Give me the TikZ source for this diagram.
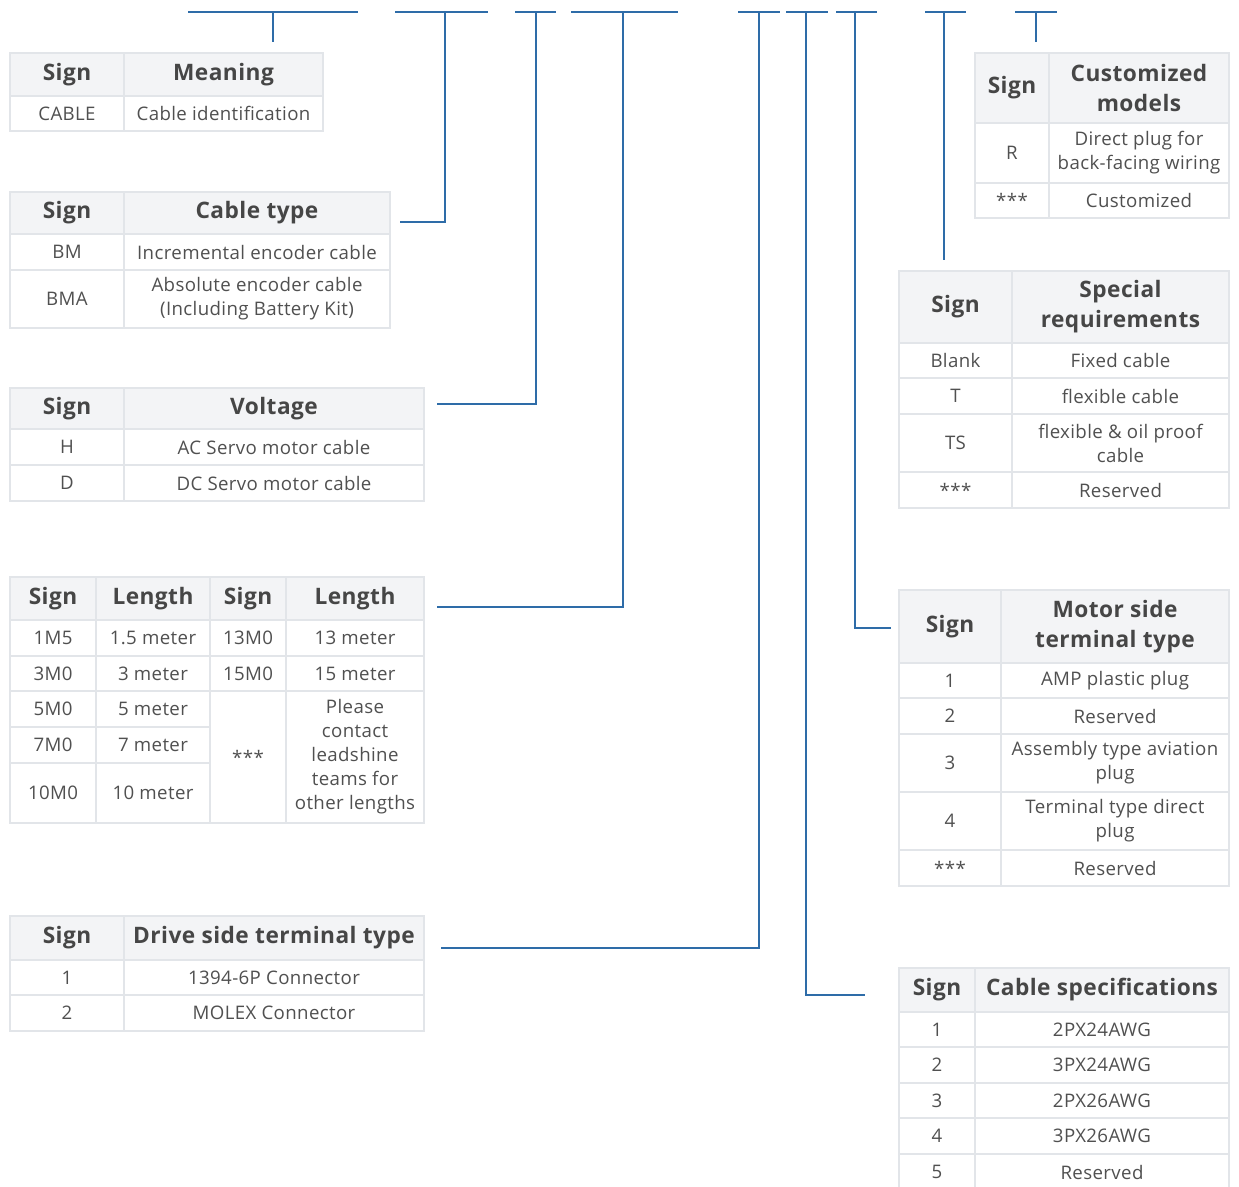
\documentclass[tikz,border=0pt]{standalone}
\usepackage{fontspec}
\setmainfont{Open Sans}[LetterSpace=2]
\definecolor{conncol}{RGB}{46,108,168}
\definecolor{gridc}{RGB}{226,229,233}
\definecolor{headfill}{RGB}{243,244,246}
\definecolor{bodytxt}{RGB}{80,80,80}
\definecolor{headtxt}{RGB}{70,70,70}
\tikzset{
  conn/.style={draw=conncol, line width=1.6pt},
  gridline/.style={draw=gridc, line width=0.9pt},
  celltext/.style={text=bodytxt, font=\fontsize{14}{18}\selectfont, align=center, inner sep=0pt},
  headtext/.style={text=headtxt, font=\fontsize{17}{22.5}\selectfont\bfseries, align=center, inner sep=0pt},
}
\newcommand{\tcell}[6]{%
  \path[gridline] (#2,#3) rectangle (#4,#5);
  \node[celltext] (#1) at ({(#2+#4)/2},{(#3+#5)/2}) {#6};}
\newcommand{\hcell}[6]{%
  \path[gridline, fill=headfill] (#2,#3) rectangle (#4,#5);
  \node[headtext] (#1) at ({(#2+#4)/2},{(#3+#5)/2}) {#6};}
\begin{document}
\begin{tikzpicture}[x=0.75pt,y=-0.75pt]
\clip (0,0) rectangle (1239,1186);
\fill[white] (0,0) rectangle (1239,1186);

% ---------- Table 1: Meaning
\hcell{ta1}{10}{53}{124}{96}{Sign}
\hcell{ta2}{124}{53}{323}{96}{Meaning}
\tcell{ta3}{10}{96}{124}{131}{CABLE}
\tcell{ta4}{124}{96}{323}{131}{Cable identification}

% ---------- Table 2: Cable type
\hcell{tb1}{10}{192}{124}{234}{Sign}
\hcell{tb2}{124}{192}{390}{234}{Cable type}
\tcell{tb3}{10}{234}{124}{270}{BM}
\tcell{tb4}{124}{234}{390}{270}{Incremental encoder cable}
\tcell{tb5}{10}{270}{124}{328}{BMA}
\tcell{tb6}{124}{270}{390}{328}{Absolute encoder cable\\(Including Battery Kit)}

% ---------- Table 3: Voltage
\hcell{tc1}{10}{388}{124}{429}{Sign}
\hcell{tc2}{124}{388}{424}{429}{Voltage}
\tcell{tc3}{10}{429}{124}{465}{H}
\tcell{tc4}{124}{429}{424}{465}{AC Servo motor cable}
\tcell{tc5}{10}{465}{124}{501}{D}
\tcell{tc6}{124}{465}{424}{501}{DC Servo motor cable}

% ---------- Table 4: Length
\hcell{td1}{10}{577}{96}{620}{Sign}
\hcell{td2}{96}{577}{210}{620}{Length}
\hcell{td3}{210}{577}{286}{620}{Sign}
\hcell{td4}{286}{577}{424}{620}{Length}
\tcell{td5}{10}{620}{96}{656}{1M5}
\tcell{td6}{96}{620}{210}{656}{1.5 meter}
\tcell{td7}{210}{620}{286}{656}{13M0}
\tcell{td8}{286}{620}{424}{656}{13 meter}
\tcell{td9}{10}{656}{96}{691}{3M0}
\tcell{td10}{96}{656}{210}{691}{3 meter}
\tcell{td11}{210}{656}{286}{691}{15M0}
\tcell{td12}{286}{656}{424}{691}{15 meter}
\tcell{td13}{10}{691}{96}{727}{5M0}
\tcell{td14}{96}{691}{210}{727}{5 meter}
\tcell{td15}{10}{727}{96}{763}{7M0}
\tcell{td16}{96}{727}{210}{763}{7 meter}
\tcell{td17}{10}{763}{96}{823}{10M0}
\tcell{td18}{96}{763}{210}{823}{10 meter}
\tcell{td19}{210}{691}{286}{823}{***}
\tcell{td20}{286}{691}{424}{823}{Please\\contact\\leadshine\\teams for\\other lengths}

% ---------- Table 5: Drive side terminal type
\hcell{te1}{10}{916}{124}{960}{Sign}
\hcell{te2}{124}{916}{424}{960}{Drive side terminal type}
\tcell{te3}{10}{960}{124}{995}{1}
\tcell{te4}{124}{960}{424}{995}{1394-6P Connector}
\tcell{te5}{10}{995}{124}{1031}{2}
\tcell{te6}{124}{995}{424}{1031}{MOLEX Connector}

% ---------- Table 6: Customized models
\hcell{tf1}{975}{53}{1049}{123}{Sign}
\hcell{tf2}{1049}{53}{1229}{123}{Customized\\models}
\tcell{tf3}{975}{123}{1049}{183}{R}
\tcell{tf4}{1049}{123}{1229}{183}{Direct plug for\\back-facing wiring}
\tcell{tf5}{975}{183}{1049}{218}{***}
\tcell{tf6}{1049}{183}{1229}{218}{Customized}

% ---------- Table 7: Special requirements
\hcell{tg1}{899}{271}{1012}{343}{Sign}
\hcell{tg2}{1012}{271}{1229}{343}{Special\\requirements}
\tcell{tg3}{899}{343}{1012}{378}{Blank}
\tcell{tg4}{1012}{343}{1229}{378}{Fixed cable}
\tcell{tg5}{899}{378}{1012}{414}{T}
\tcell{tg6}{1012}{378}{1229}{414}{flexible cable}
\tcell{tg7}{899}{414}{1012}{472}{TS}
\tcell{tg8}{1012}{414}{1229}{472}{flexible \& oil proof\\cable}
\tcell{tg9}{899}{472}{1012}{508}{***}
\tcell{tg10}{1012}{472}{1229}{508}{Reserved}

% ---------- Table 8: Motor side terminal type
\hcell{th1}{899}{590}{1001}{663}{Sign}
\hcell{th2}{1001}{590}{1229}{663}{Motor side\\terminal type}
\tcell{th3}{899}{663}{1001}{698}{1}
\tcell{th4}{1001}{663}{1229}{698}{AMP plastic plug}
\tcell{th5}{899}{698}{1001}{734}{2}
\tcell{th6}{1001}{698}{1229}{734}{Reserved}
\tcell{th7}{899}{734}{1001}{792}{3}
\tcell{th8}{1001}{734}{1229}{792}{Assembly type aviation\\plug}
\tcell{th9}{899}{792}{1001}{850}{4}
\tcell{th10}{1001}{792}{1229}{850}{Terminal type direct\\plug}
\tcell{th11}{899}{850}{1001}{886}{***}
\tcell{th12}{1001}{850}{1229}{886}{Reserved}

% ---------- Table 9: Cable specifications
\hcell{ti1}{899}{968}{975}{1012}{Sign}
\hcell{ti2}{975}{968}{1229}{1012}{Cable specifications}
\tcell{ti3}{899}{1012}{975}{1047}{1}
\tcell{ti4}{975}{1012}{1229}{1047}{2PX24AWG}
\tcell{ti5}{899}{1047}{975}{1083}{2}
\tcell{ti6}{975}{1047}{1229}{1083}{3PX24AWG}
\tcell{ti7}{899}{1083}{975}{1118}{3}
\tcell{ti8}{975}{1083}{1229}{1118}{2PX26AWG}
\tcell{ti9}{899}{1118}{975}{1154}{4}
\tcell{ti10}{975}{1118}{1229}{1154}{3PX26AWG}
\tcell{ti11}{899}{1154}{975}{1190}{5}
\tcell{ti12}{975}{1154}{1229}{1190}{Reserved}

% ---------- Connector coordinates
\coordinate (s1l) at (188,12);  \coordinate (s1r) at (358,12);  \coordinate (s1t) at (273,12); \coordinate (s1e) at (273,42);
\coordinate (s2l) at (395,12);  \coordinate (s2r) at (488,12);  \coordinate (s2t) at (445,12); \coordinate (s2e) at (400,222);
\coordinate (s3l) at (515,12);  \coordinate (s3r) at (556,12);  \coordinate (s3t) at (536,12); \coordinate (s3e) at (437,404);
\coordinate (s4l) at (571,12);  \coordinate (s4r) at (678,12);  \coordinate (s4t) at (623,12); \coordinate (s4e) at (437,607);
\coordinate (s5l) at (738,12);  \coordinate (s5r) at (780,12);  \coordinate (s5t) at (759,12); \coordinate (s5e) at (441,948);
\coordinate (s6l) at (786,12);  \coordinate (s6r) at (828,12);  \coordinate (s6t) at (806,12); \coordinate (s6e) at (865,995);
\coordinate (s7l) at (836,12);  \coordinate (s7r) at (877,12);  \coordinate (s7t) at (855,12); \coordinate (s7e) at (891,628);
\coordinate (s8l) at (925,12);  \coordinate (s8r) at (966,12);  \coordinate (s8t) at (944,12); \coordinate (s8e) at (944,260);
\coordinate (s9l) at (1015,12); \coordinate (s9r) at (1057,12); \coordinate (s9t) at (1036,12); \coordinate (s9e) at (1036,42);

\foreach \i in {1,...,9} { \draw[conn] (s\i l) -- (s\i r); }
\draw[conn] (s1t) -- (s1e);
\draw[conn] (s2t) |- (s2e);
\draw[conn] (s3t) |- (s3e);
\draw[conn] (s4t) |- (s4e);
\draw[conn] (s5t) |- (s5e);
\draw[conn] (s6t) |- (s6e);
\draw[conn] (s7t) |- (s7e);
\draw[conn] (s8t) -- (s8e);
\draw[conn] (s9t) -- (s9e);
\end{tikzpicture}
\end{document}
